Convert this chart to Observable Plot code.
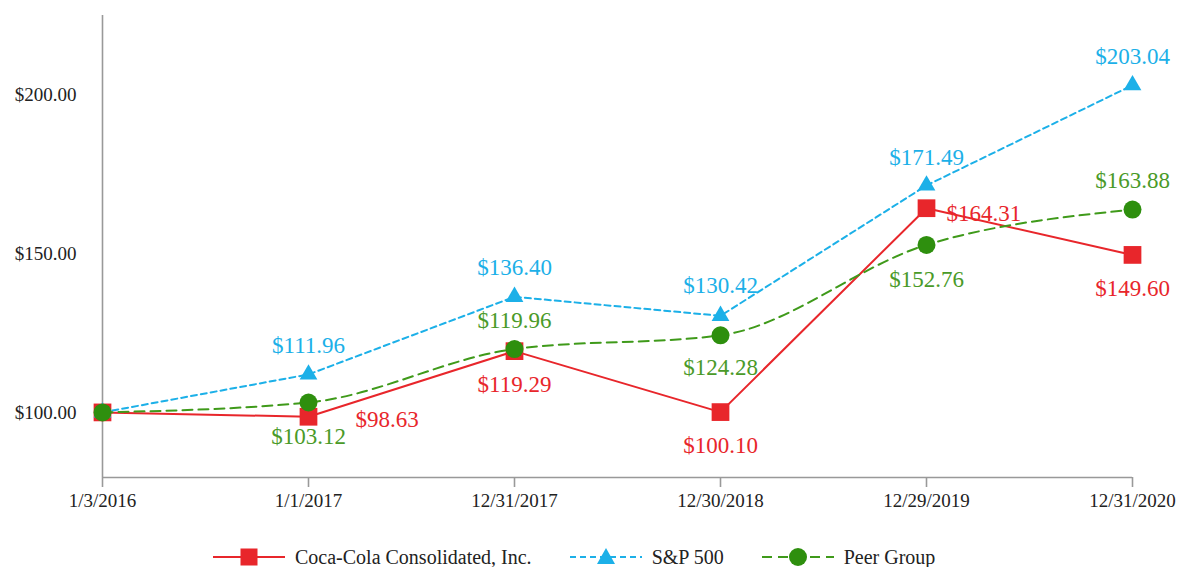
<!DOCTYPE html>
<html><head><meta charset="utf-8">
<script src="https://cdn.jsdelivr.net/npm/d3@7"></script>
<script src="https://cdn.jsdelivr.net/npm/@observablehq/plot@0.6"></script>
<style>
body{margin:0;background:#fff;font-family:"Liberation Serif","Times New Roman",serif;}
#legend{display:flex;align-items:center;height:34px;padding-left:213px;box-sizing:border-box;font-size:20px;color:#222;}
.item{display:flex;align-items:center;}
.item svg{display:block;}
.item span{margin-left:10px;line-height:20px;}
</style></head><body>
<div id="chart"></div>
<div id="legend"></div>
<script>
const dates = ["1/3/2016","1/1/2017","12/31/2017","12/30/2018","12/29/2019","12/31/2020"];
const cokeValues = [100.00, 98.63, 119.29, 100.10, 164.31, 149.60];
const spValues = [100.00, 111.96, 136.40, 130.42, 171.49, 203.04];
const peerValues = [100.00, 103.12, 119.96, 124.28, 152.76, 163.88];
const seriesNames = ["Coca-Cola Consolidated, Inc.", "S&P 500", "Peer Group"];
const yTickValues = [100, 150, 200];

const fmt = v => "$" + v.toFixed(2);
const RED = "#e8262b", BLUE = "#1cb0e8", GREEN = "#3f9a1a", GREEN_DOT = "#2e8f0e", GREEN_TXT = "#4a9a28";

const series = [
  {name: seriesNames[0], values: cokeValues, color: RED, text: RED, symbol: "square", r: 10, dash: null, curve: "linear",
   labels: [null, {dx: 47, dy: 3, a: "start"}, {dy: 33}, {dy: 34}, {dx: 20, dy: 5, a: "start"}, {dy: 34}]},
  {name: seriesNames[1], values: spValues, color: BLUE, text: BLUE, symbol: "triangle", r: 6.6, dash: "6,4", curve: "linear",
   labels: [null, {dy: -29}, {dy: -29}, {dy: -30}, {dy: -28}, {dy: -29}]},
  {name: seriesNames[2], values: peerValues, color: GREEN, dotColor: GREEN_DOT, text: GREEN_TXT, symbol: "circle", r: 9, dash: "10,6", curve: "monotone-x",
   labels: [null, {dy: 34}, {dy: -28}, {dy: 32}, {dy: 35}, {dy: -29}]}
];

const marks = [
  Plot.ruleX([dates[0]], {stroke: "#999", strokeWidth: 1.6}),
  Plot.ruleY([79.5], {stroke: "#999", strokeWidth: 1.6}),
  Plot.axisX({tickSize: 10, tickPadding: 6, stroke: "#999", strokeWidth: 1.6, fill: "#222", fontSize: 19, label: null}),
  Plot.axisY({ticks: yTickValues, tickSize: 0, tickPadding: 26, tickFormat: fmt, fill: "#222", fontSize: 19, label: null})
];

for (const s of series) {
  const rows = dates.map((d, i) => ({date: d, value: s.values[i], i}));
  marks.push(Plot.line(rows, {x: "date", y: "value", stroke: s.color, strokeWidth: 2, strokeDasharray: s.dash, curve: s.curve}));
  marks.push(Plot.dot(rows, {x: "date", y: "value", symbol: () => s.symbol, r: s.r, fill: s.dotColor || s.color, stroke: "none"}));
}
for (const s of series) {
  dates.forEach((d, i) => {
    const L = s.labels[i];
    if (!L) return;
    marks.push(Plot.text([{date: d, value: s.values[i]}], {
      x: "date", y: "value", text: r => fmt(r.value), fill: s.text,
      fontSize: 23, dx: L.dx || 0, dy: L.dy || 0, textAnchor: L.a || "middle", lineAnchor: "middle"
    }));
  });
}

const chart = Plot.plot({
  width: 1179, height: 540,
  marginLeft: 102, marginRight: 47, marginTop: 15, marginBottom: 63,
  style: {fontFamily: "'Liberation Serif', 'Times New Roman', serif", background: "#fff", overflow: "visible"},
  x: {type: "point", domain: dates, padding: 0},
  y: {domain: [79.5, 225]},
  marks
});
document.getElementById("chart").appendChild(chart);

// legend
const legend = document.getElementById("legend");
const gaps = [0, 38, 38];
series.forEach((s, k) => {
  const item = document.createElement("div");
  item.className = "item";
  item.style.marginLeft = gaps[k] + "px";
  const w = 72, h = 22, cx = 36, cy = 11;
  let sym;
  if (s.symbol === "square") sym = `<rect x="${cx-8.5}" y="${cy-8.5}" width="17" height="17" fill="${s.color}"/>`;
  else if (s.symbol === "triangle") sym = `<path d="M${cx},${cy-9}L${cx+9},${cy+7}L${cx-9},${cy+7}Z" fill="${s.color}"/>`;
  else sym = `<circle cx="${cx}" cy="${cy}" r="9" fill="${s.dotColor || s.color}"/>`;
  item.innerHTML = `<svg width="${w}" height="${h}"><line x1="0" x2="${w}" y1="${cy}" y2="${cy}" stroke="${s.color}" stroke-width="2" ${s.dash ? `stroke-dasharray="${s.dash}"` : ""}/>${sym}</svg><span>${s.name}</span>`;
  legend.appendChild(item);
});
</script>
</body></html>
